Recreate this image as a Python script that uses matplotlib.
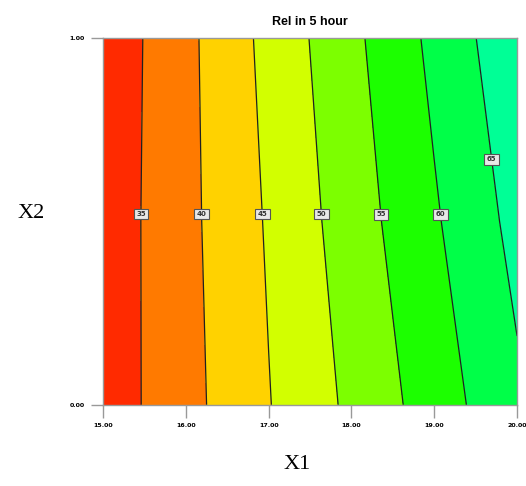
import numpy as np
import matplotlib.pyplot as plt

# design space
x1 = [15.0, 16.0, 17.0, 18.0, 19.0, 20.0]
x2 = [0.0, 0.5, 1.0]
# response "Rel in 5 hour", rows follow x2, columns follow x1
rel = [
    [32.1, 38.4, 44.8, 51.0, 57.4, 64.1],
    [31.9, 38.7, 45.5, 52.5, 59.4, 66.5],
    [31.5, 38.8, 46.4, 53.8, 61.2, 68.7],
]
levels = [35, 40, 45, 50, 55, 60, 65]
fill_levels = [25] + levels + [75]
colors = ['#ff2a00', '#ff7a00', '#ffd200', '#d2ff00',
          '#7cff00', '#1cff00', '#00ff48', '#00ff96']
xticks = [15, 16, 17, 18, 19, 20]
xticklabels = ['15.00', '16.00', '17.00', '18.00', '19.00', '20.00']

fig = plt.figure(figsize=(5.26, 4.86), dpi=100)
ax = fig.add_axes([0.196, 0.167, 0.787, 0.755])

X, Y = np.meshgrid(x1, x2)
Z = np.array(rel)
ax.contourf(X, Y, Z, levels=fill_levels, colors=colors)
cs = ax.contour(X, Y, Z, levels=levels, colors='#202020', linewidths=0.9)

label_pos = [(15.46, 0.52), (16.2, 0.52), (16.93, 0.52), (17.62, 0.52),
             (18.37, 0.52), (19.09, 0.52), (19.72, 0.67)]
txts = ax.clabel(cs, fmt='%d', fontsize=5, colors='#333333',
                 manual=label_pos, inline=False)
for t in txts:
    t.set_rotation(0)
    t.set_fontweight('bold')
    t.set_bbox(dict(facecolor='#e8e8e8', edgecolor='#555555',
                    boxstyle='square,pad=0.35', linewidth=0.8))

ax.set_xlim(15, 20)
ax.set_ylim(0, 1)
ax.set_xticks(xticks)
ax.set_xticklabels(xticklabels)
ax.set_yticks([0, 1])
ax.set_yticklabels(['0.00', '1.00'])
ax.tick_params(labelsize=4.5, length=9, width=1, color='#999999', pad=4)
for lab in ax.get_xticklabels() + ax.get_yticklabels():
    lab.set_fontweight('bold')
for s in ax.spines.values():
    s.set_color('#999999')
    s.set_linewidth(1)

ax.set_title('Rel in 5 hour', fontsize=9, fontweight='bold',
             family='Liberation Sans', pad=9)
fig.text(0.06, 0.56, 'X2', fontsize=16, family='Liberation Serif',
         ha='center', va='center')
fig.text(0.565, 0.045, 'X1', fontsize=16, family='Liberation Serif',
         ha='center', va='center')

fig.savefig('out.png', dpi=100)
